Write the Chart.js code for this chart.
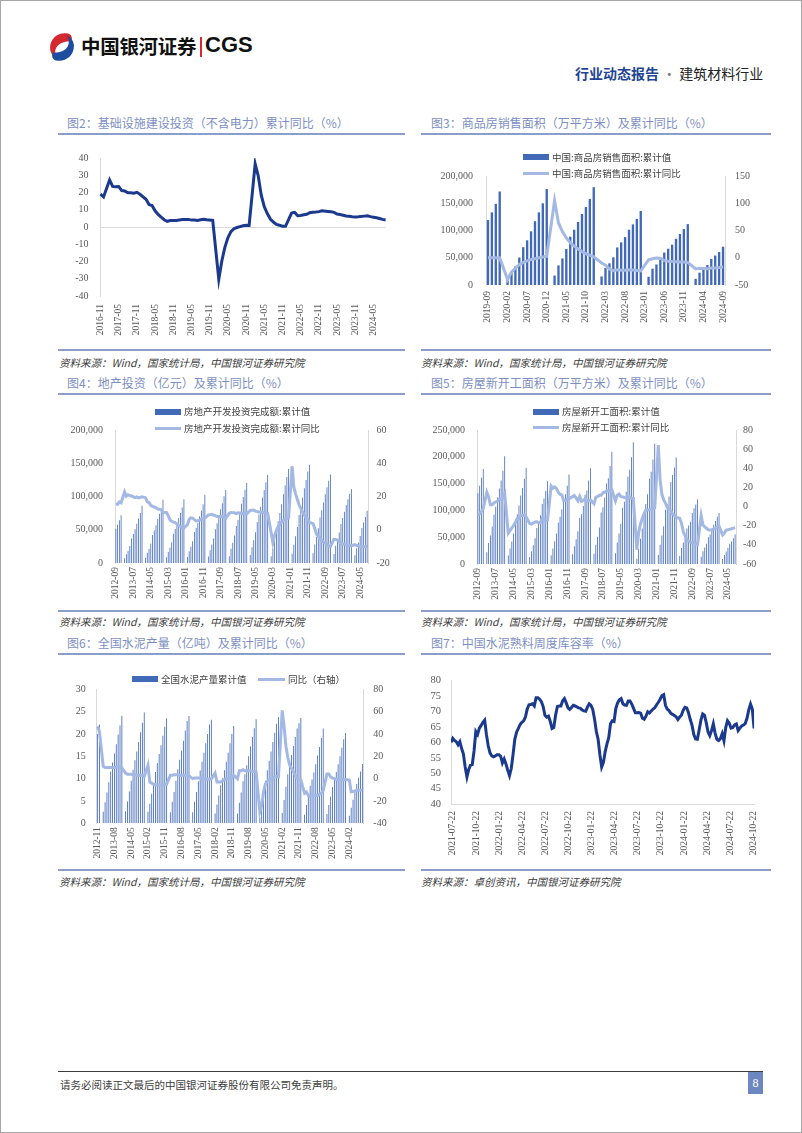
<!DOCTYPE html>
<html><head><meta charset="utf-8">
<script src="https://cdn.jsdelivr.net/npm/chart.js@4.4.1/dist/chart.umd.min.js"></script>
<style>
html,body{margin:0;padding:0;background:#fff;}
#page{position:relative;width:802px;height:1133px;overflow:hidden;font-family:"Noto Sans CJK SC","Noto Sans",sans-serif;}
#frame{position:absolute;left:0;top:0;width:802px;height:1133px;box-sizing:border-box;border:1px solid #a6a6a6;pointer-events:none;}
.title{position:absolute;font-size:12px;color:#7d8fc2;white-space:nowrap;line-height:14px;}
.hline{position:absolute;height:2px;background:#8d9dc9;}
.src{position:absolute;font-size:10.5px;color:#3c3c3c;font-style:italic;white-space:nowrap;line-height:12px;}
canvas{position:absolute;}
.lg{position:absolute;font-size:9.5px;color:#404040;white-space:nowrap;line-height:12px;}
.sw{position:absolute;}
</style>
</head><body>
<div id="page">
  <svg style="position:absolute;left:47px;top:32px" width="30" height="30" viewBox="0 0 30 30">
    <path d="M21 1.5 C11 -0.5 2 7 3.2 17.5 C3.8 21.5 6.5 25 10 26.5 C6.5 21 8 14.5 13.5 11.5 C16.5 9.8 20 9.2 24 9.5 C26 6 24.5 2.5 21 1.5 Z" fill="#d42a2f"/>
    <path d="M9 28.5 C19 30.5 28 23 26.8 12.5 C26.2 8.5 23.5 5 20 3.5 C23.5 9 22 15.5 16.5 18.5 C13.5 20.2 10 20.8 6 20.5 C4 24 5.5 27.5 9 28.5 Z" fill="#1e4c9e"/>
  </svg>
  <div style="position:absolute;left:81px;top:33px;font-size:19.5px;font-weight:700;color:#111;line-height:26px;letter-spacing:-0.3px">中国银河证券</div>
  <div style="position:absolute;left:200px;top:37px;width:2px;height:20px;background:#d42a2f"></div>
  <div style="position:absolute;left:205px;top:31px;font-family:'Liberation Sans',Arial,sans-serif;font-size:22px;font-weight:700;color:#111;line-height:28px">CGS</div>
  <div style="position:absolute;left:575px;top:63px;font-size:14px;line-height:20px;white-space:nowrap"><span style="color:#1f4592;font-weight:700">行业动态报告</span><span style="color:#777"> · </span><span style="color:#222">建筑材料行业</span></div>

  <div class="title" style="left:67px;top:116px">图2：基础设施建设投资（不含电力）累计同比（%）</div>
  <div class="title" style="left:431px;top:116px">图3：商品房销售面积（万平方米）及累计同比（%）</div>
  <div class="hline" style="left:58px;top:133px;width:347px"></div>
  <div class="hline" style="left:421px;top:133px;width:350px"></div>
  <div class="hline" style="left:58px;top:349px;width:347px"></div>
  <div class="hline" style="left:421px;top:349px;width:350px"></div>
  <div class="src" style="left:59px;top:357px">资料来源：Wind，国家统计局，中国银河证券研究院</div>
  <div class="src" style="left:421px;top:357px">资料来源：Wind，国家统计局，中国银河证券研究院</div>

  <div class="title" style="left:67px;top:376px">图4：地产投资（亿元）及累计同比（%）</div>
  <div class="title" style="left:431px;top:376px">图5：房屋新开工面积（万平方米）及累计同比（%）</div>
  <div class="hline" style="left:58px;top:393px;width:347px"></div>
  <div class="hline" style="left:421px;top:393px;width:350px"></div>
  <div class="hline" style="left:58px;top:610px;width:347px"></div>
  <div class="hline" style="left:421px;top:610px;width:350px"></div>
  <div class="src" style="left:59px;top:616px">资料来源：Wind，国家统计局，中国银河证券研究院</div>
  <div class="src" style="left:421px;top:616px">资料来源：Wind，国家统计局，中国银河证券研究院</div>

  <div class="title" style="left:67px;top:636px">图6：全国水泥产量（亿吨）及累计同比（%）</div>
  <div class="title" style="left:431px;top:636px">图7：中国水泥熟料周度库容率（%）</div>
  <div class="hline" style="left:58px;top:653px;width:347px"></div>
  <div class="hline" style="left:421px;top:653px;width:350px"></div>
  <div class="hline" style="left:58px;top:869px;width:347px"></div>
  <div class="hline" style="left:421px;top:869px;width:350px"></div>
  <div class="src" style="left:59px;top:876px">资料来源：Wind，国家统计局，中国银河证券研究院</div>
  <div class="src" style="left:421px;top:876px">资料来源：卓创资讯，中国银河证券研究院</div>

  <canvas id="c2" width="347" height="205" style="left:58px;top:140px"></canvas>
  <canvas id="c3" width="352" height="205" style="left:420px;top:140px"></canvas>
  <canvas id="c4" width="347" height="205" style="left:58px;top:400px"></canvas>
  <canvas id="c5" width="352" height="205" style="left:420px;top:400px"></canvas>
  <canvas id="c6" width="347" height="205" style="left:58px;top:660px"></canvas>
  <canvas id="c7" width="352" height="205" style="left:420px;top:660px"></canvas>

  <div style="position:absolute;left:58px;top:1071px;width:705px;height:1px;background:#3a3a3a"></div>
  <div style="position:absolute;left:60px;top:1078px;font-size:10.5px;color:#404040;line-height:14px;white-space:nowrap">请务必阅读正文最后的中国银河证券股份有限公司免责声明。</div>
  <div style="position:absolute;left:748px;top:1072px;width:15px;height:22px;background:#6c86c1;color:#fff;font-family:'Liberation Serif',serif;font-size:12px;line-height:22px;text-align:center">8</div>
  <div id="frame"></div>
</div>
<script>
// ---------------- DATA ----------------
function monthRange(start, end) {
  const out = []; let [y, m] = start.split('-').map(Number); const [ey, em] = end.split('-').map(Number);
  while (y < ey || (y === ey && m <= em)) { out.push(y + '-' + String(m).padStart(2, '0')); m++; if (m > 12) { m = 1; y++; } }
  return out;
}

// Fig 2: infrastructure investment (excl. power), cumulative YoY %
const c2Cats = monthRange('2016-11', '2024-09');
const c2TickLabels = ['2016-11','2017-05','2017-11','2018-05','2018-11','2019-05','2019-11','2020-05','2020-11','2021-05','2021-11','2022-05','2022-11','2023-05','2023-11','2024-05'];
const c2Yoy = [19.0, 17.4,
  null, 27.3, 23.5, 23.3, 23.4, 21.1, 20.9, 19.8, 19.8, 19.6, 20.1, 19.0,
  null, 16.1, 13.0, 12.4, 9.4, 7.3, 5.7, 4.2, 3.3, 3.7, 3.7, 3.8,
  null, 4.3, 4.4, 4.4, 4.0, 4.1, 3.8, 4.2, 4.5, 4.2, 4.0, 3.8,
  null, -30.3, -19.7, -11.8, -6.3, -2.7, -1.0, -0.3, 0.2, 0.7, 1.0, 0.9,
  null, 36.6, 29.7, 18.4, 11.8, 7.8, 4.6, 2.9, 1.5, 1.0, 0.5, 0.4,
  null, 8.1, 8.5, 6.5, 6.7, 7.1, 7.4, 8.3, 8.6, 8.7, 8.9, 9.4,
  null, 9.0, 8.8, 8.5, 7.5, 7.2, 6.8, 6.4, 6.2, 5.9, 5.8, 5.9,
  null, 6.3, 6.5, 6.0, 5.7, 5.4, 4.9, 4.4, 4.1];

// Fig 3: commodity housing sales area
const c3Cats = monthRange('2019-09', '2024-09');
const c3TickLabels = ['2019-09','2020-02','2020-07','2020-12','2021-05','2021-10','2022-03','2022-08','2023-01','2023-06','2023-11','2024-04','2024-09'];
const c3Area = [119179, 133251, 148905, 171558,
  null, 8475, 21978, 33839, 50464, 69404, 81973, 98486, 117073, 133294, 149845, 176086,
  null, 17363, 36007, 48710, 66194, 88635, 101386, 115568, 130332, 143041, 158015, 179433,
  null, 15703, 31046, 39768, 50738, 68923, 78178, 87890, 101422, 111179, 121250, 135837,
  null, 15133, 29946, 37636, 46440, 59515, 66563, 73949, 84806, 93476, 102694, 111735,
  null, 11369, 22668, 29252, 36642, 47916, 54072, 60508, 70284];
const c3Yoy = [-0.1, 0.1, 0.2, -0.1,
  null, -39.9, -26.3, -19.3, -12.3, -8.4, -5.8, -3.3, -1.8, 0.0, 1.3, 2.6,
  null, 104.9, 63.8, 48.1, 36.3, 27.7, 21.5, 15.9, 11.3, 7.3, 4.8, 1.9,
  null, -9.6, -13.8, -20.9, -23.6, -22.2, -23.1, -23.0, -22.2, -22.3, -23.3, -24.3,
  null, -3.6, -1.8, -0.4, -0.9, -5.3, -6.5, -7.1, -7.5, -7.8, -8.0, -8.5,
  null, -20.5, -19.4, -19.8, -20.3, -19.0, -18.6, -18.0, -17.1];

// Fig 4: real estate development investment
const c4Cats = monthRange('2012-09', '2024-09');
const c45TickLabels = ['2012-09','2013-07','2014-05','2015-03','2016-01','2016-11','2017-09','2018-07','2019-05','2020-03','2021-01','2021-11','2022-09','2023-07','2024-05'];
const c4Inv = [51046, 57464, 64192, 71804,
  null, 6970, 13133, 18532, 25564, 36828, 43719, 50840, 59148, 66752, 75021, 86013,
  null, 7986, 15339, 21193, 29205, 42019, 49007, 56662, 66166, 73990, 82194, 95036,
  null, 8786, 16491, 22873, 31187, 43955, 50950, 57843, 67706, 75206, 83489, 95979,
  null, 9194, 17677, 24290, 32632, 46631, 53127, 60302, 70432, 78872, 87819, 102581,
  null, 9854, 19292, 27732, 36797, 50610, 59761, 68457, 80644, 89696, 100387, 109799,
  null, 10292, 21291, 30592, 41471, 55531, 64839, 76519, 88948, 99325, 110083, 120264,
  null, 12090, 23803, 34217, 46075, 61609, 72843, 84589, 98008, 109603, 121265, 132194,
  null, 10115, 21963, 33103, 45920, 62780, 75325, 88454, 103484, 116556, 129492, 141443,
  null, 13986, 27576, 40240, 54318, 72179, 84895, 98011, 112568, 124934, 137567, 147602,
  null, 14499, 27765, 39154, 52134, 68314, 79462, 90809, 103559, 113945, 123863, 132895,
  null, 13669, 25974, 35514, 45701, 58550, 67717, 76900, 87269, 95922, 104045, 110913,
  null, 11842, 22082, 30928, 40632, 52529, 60877, 69284, 78680];
const c4Yoy = [15.4, 15.4, 16.7, 16.2,
  null, 22.8, 20.2, 21.1, 20.6, 20.3, 19.8, 19.3, 19.7, 19.2, 19.5, 19.8,
  null, 19.3, 16.8, 16.4, 14.7, 14.1, 13.7, 13.2, 12.5, 12.4, 11.9, 10.5,
  null, 10.4, 8.5, 6.0, 5.1, 4.6, 4.3, 3.5, 2.6, 2.0, 1.3, 1.0,
  null, 3.0, 6.2, 7.2, 7.0, 6.1, 5.3, 5.4, 5.8, 6.6, 6.5, 6.9,
  null, 8.9, 9.1, 9.3, 8.8, 8.5, 7.9, 7.9, 8.1, 7.8, 7.5, 7.0,
  null, 9.9, 10.4, 10.3, 10.2, 9.7, 10.2, 10.1, 9.9, 9.7, 9.7, 9.5,
  null, 11.6, 11.8, 11.9, 11.2, 10.9, 10.6, 10.5, 10.5, 10.3, 10.2, 9.9,
  null, null, -7.7, -3.3, -0.3, 1.9, 3.4, 4.6, 5.6, 6.3, 6.8, 7.0,
  null, 38.3, 25.6, 21.6, 18.3, 15.0, 12.7, 10.9, 8.8, 7.2, 6.0, 4.4,
  null, 3.7, 0.7, -2.7, -4.0, -5.4, -6.4, -7.4, -8.0, -8.8, -9.8, -10.0,
  null, -5.7, -5.8, -6.2, -7.2, -7.9, -8.5, -8.8, -9.1, -9.3, -9.4, -9.6,
  null, -9.0, -9.5, -9.8, -10.1, -10.1, -10.2, -10.2, -10.1];

// Fig 5: new housing starts area
const c5Cats = monthRange('2012-09', '2024-09');
const c5Area = [132000, 146000, 161000, 177334,
  null, 22000, 39000, 53000, 70000, 92000, 107000, 124000, 141000, 156000, 174000, 201208,
  null, 16000, 29000, 42000, 57000, 80000, 93000, 109000, 128000, 142000, 159000, 179592,
  null, 13000, 24000, 35000, 48000, 67000, 78000, 91000, 112000, 122000, 136000, 154454,
  null, 16500, 29000, 42500, 57000, 77000, 88000, 102000, 119000, 130000, 146000, 166928,
  null, 18000, 33000, 46000, 61000, 86000, 93000, 108000, 129000, 137000, 156000, 178654,
  null, 19000, 36000, 51000, 68000, 96000, 106000, 124000, 150000, 160000, 183000, 209342,
  null, 20000, 40000, 57000, 75000, 105000, 116000, 135000, 163000, 176000, 199000, 227154,
  null, 10000, 28000, 47000, 66000, 97000, 112000, 130000, 159000, 172000, 195000, 224433,
  null, 17000, 36000, 53000, 70000, 101000, 112000, 126000, 153000, 166000, 180000, 198895,
  null, 15000, 30000, 40000, 49000, 66000, 72000, 79000, 95000, 104000, 111000, 120587,
  null, 13600, 24000, 31000, 38000, 50000, 55000, 63000, 73000, 80000, 88000, 95376,
  null, 9400, 17000, 23500, 30000, 38000, 42000, 48000, 55151];
const c5Yoy = [-9, -7.5, -5, -2,
  null, 15, 10, 2, 2, 3.8, 5, 5.6, 7.9, 7.6, 9.8, 13.5,
  null, -27.8, -25.2, -22.3, -19.8, -16.4, -12.7, -12.4, -9.3, -9.3, -9.0, -10.7,
  null, -17.7, -18.4, -17.1, -16.0, -15.8, -16.8, -16.8, -12.6, -13.9, -14.6, -14.0,
  null, 21.5, 19.2, 20.5, 18.9, 14.9, 12.6, 12.2, 6.2, 6.4, 7.6, 8.1,
  null, 10.4, 11.6, 8.8, 6.0, 10.6, 5.5, 6.1, 8.2, 5.4, 6.4, 7.0,
  null, 2.9, 9.7, 10.3, 11.8, 11.8, 14.4, 14.9, 16.4, 16.3, 16.8, 17.2,
  null, 6.0, 11.9, 13.1, 10.5, 10.1, 9.5, 8.9, 8.6, 10.0, 8.6, 8.5,
  null, -44.9, -27.2, -18.4, -12.8, -7.6, -3.6, -3.6, -3.4, -2.6, -2.0, -1.2,
  null, 64.3, 28.2, 12.8, 6.9, 3.8, -0.9, -3.2, -4.5, -7.7, -9.1, -11.4,
  null, -12.2, -17.5, -26.3, -30.6, -34.4, -36.1, -37.2, -38.0, -37.8, -38.9, -39.4,
  null, -9.4, -19.2, -21.2, -22.6, -24.3, -24.5, -24.4, -23.4, -23.2, -21.2, -20.4,
  null, -29.7, -27.8, -24.6, -24.2, -23.7, -23.2, -22.5, -22.2];

// Fig 6: cement output
const c6Cats = monthRange('2012-11', '2024-09');
const c6TickLabels = ['2012-11','2013-08','2014-05','2015-02','2015-11','2016-08','2017-05','2018-02','2018-11','2019-08','2020-05','2021-02','2021-11','2022-08','2023-05','2024-02'];
const c6Output = [20.0, 22.1,
  null, 2.6, 4.7, 6.9, 9.2, 11.6, 13.6, 15.6, 17.7, 19.9, 21.9, 24.1,
  null, 2.7, 4.9, 7.1, 9.5, 12.0, 14.1, 16.1, 18.2, 20.4, 22.5, 24.8,
  null, 2.6, 4.4, 6.6, 9.0, 11.5, 13.5, 15.5, 17.5, 19.6, 21.6, 23.5,
  null, 2.5, 4.8, 7.0, 9.5, 12.1, 14.2, 16.3, 18.5, 20.8, 22.9, 24.0,
  null, 2.5, 4.8, 7.0, 9.4, 11.8, 13.8, 15.8, 17.9, 20.0, 22.1, 23.2,
  null, 2.2, 4.2, 6.2, 8.5, 10.1, 11.9, 13.8, 15.8, 17.9, 20.0, 21.8,
  null, 2.2, 4.6, 6.9, 9.4, 11.0, 13.0, 15.0, 17.2, 19.3, 21.3, 23.3,
  null, 1.3, 3.8, 6.7, 9.5, 11.9, 14.0, 16.1, 18.2, 20.3, 22.3, 23.8,
  null, 2.3, 5.2, 8.2, 11.0, 13.3, 15.3, 17.3, 19.3, 21.2, 22.4, 23.6,
  null, 1.9, 4.1, 6.3, 8.4, 9.8, 11.4, 13.2, 15.2, 17.1, 19.1, 21.2,
  null, 2.1, 4.1, 6.0, 8.1, 9.9, 11.5, 13.2, 15.0, 16.9, 18.8, 20.2,
  null, 1.7, 3.5, 5.3, 7.3, 8.8, 10.2, 11.6, 13.3];
const c6Yoy = [47, 42,
  null, 11, 10, 10, 10, 10, 10, 10, 10.5, 10.5, 10.5, 9.6,
  null, 5, 4, 4, 4, 3.5, 3.5, 3, 3, 3, 3, 2,
  null, 12, -3, -4, -5, -5.5, -6, -6, -6, -6, -5.5, -5,
  null, 3, 3, 3.5, 3.5, 3.5, 3, 3, 3, 3, 3, 2.5,
  null, 0, 0.5, 0.5, 0.5, 0.5, 0, 0, -0.5, -0.5, -0.5, -0.2,
  null, 5, -3, -3, -3, -2, -1, 0, 0, 0.5, 0.5, 3,
  null, 0, 7, 7, 8, 7, 7, 7, 7, 6.5, 6.5, 6.1,
  null, -29.5, -23.9, -11.7, -4.8, -2.5, -1.1, -0.2, 0.2, 1.6, 1.9, 1.6,
  null, 61.1, 47.3, 29.1, 18.9, 12.3, 9.2, 6.4, 2.5, 0.5, -1, -1.2,
  null, -13.2, -12, -15, -16, -15, -15, -15, -15, -14, -13, -10.8,
  null, 4.1, 4.1, 1.5, 0.5, 0, -0.5, -1, -1, -1, -1, -0.7,
  null, -1.3, -11.8, -11.5, -11, -10.5, -10.5, -10.5, -10.3];

// Fig 7: weekly clinker inventory ratio %
const c7Start = '2021-07-15';
const c7TickLabels = ['2021-07-22','2021-10-22','2022-01-22','2022-04-22','2022-07-22','2022-10-22','2023-01-22','2023-04-22','2023-07-22','2023-10-22','2024-01-22','2024-04-22','2024-07-22','2024-10-22'];
const c7Ratio = [60,61.3,60.6,60.2,59.2,60.2,58,56.2,52,48.8,
  51.2,52.6,52.8,57.2,63.5,62.6,64.6,65.5,66.5,67.2,
  62.5,58.9,56.6,55.6,55.3,55.6,56,56,55.5,53.3,
  54.6,53,51,49.2,51.5,56,61,63.3,64.5,65.8,
  66.5,67,68.2,70.8,72.2,72.3,72.5,71.8,74.5,74.5,
  74,73.2,71.6,68.8,68.2,68.5,66.8,64.5,64.8,68.8,
  71.6,71.8,71.8,73.5,74.2,72.8,71.2,70.7,71.3,72,
  71.8,71.5,71.2,71,70.5,70.2,70.1,71.5,72.5,72,
  70.6,67.5,63.5,61,56,52,53.5,57,59.5,61.5,
  66,67,66.8,71,72.8,73.8,74.2,72.5,72.1,72,
  73.4,73.4,72.4,71,69.6,69.6,69.7,69.5,67.8,67.5,
  68.5,69.9,69.5,70.2,70.8,71.2,72.2,73,74,75.2,
  75.5,72,70.8,70.3,69.4,69.1,68.7,68.3,67.4,68.2,
  68.8,70.4,71.4,71.2,69.6,67.4,65.5,62.5,61.1,61,
  64,67.2,69.2,68.8,66.4,63.4,62.2,63.8,66,63,
  61,60.6,61.2,62.8,60.5,64.8,67,66.2,64.6,64.8,
  65.7,66,63.8,64.6,65.3,65.6,66.1,67.8,70.5,72.4,
  70.8,64.5];

// ---------------- STYLE ----------------
const SERIF = '"Liberation Serif","Times New Roman",serif';
const TICK_COLOR = '#595959';
const AXIS_GRAY = '#d9d9d9';
const BAR_COLOR = '#4169b8';
const LIGHT_LINE = '#a3b8e3';
const DARK_LINE = '#1b3a8e';
Chart.defaults.animation = false;
Chart.defaults.responsive = false;
Chart.defaults.devicePixelRatio = 1;
Chart.defaults.plugins.legend.display = false;
Chart.defaults.plugins.tooltip.enabled = false;
Chart.defaults.events = [];

const fitW = w => s => { s.width = w; };
const fitH = h => s => { s.height = h; };
const fmt = v => Number(v).toLocaleString('en-US');

function catX(ticks, h, pad, extra) {
  return Object.assign({
    type: 'category',
    grid: { display: false, drawTicks: false },
    border: { display: false },
    ticks: { autoSkip: false, maxRotation: 90, minRotation: 90, padding: pad, color: TICK_COLOR,
      font: { family: SERIF, size: 9.5 },
      callback(v) { const l = this.getLabelForValue(v); return ticks.includes(l) ? l : ''; } },
    afterFit: fitH(h)
  }, extra || {});
}
function valY(pos, min, max, step, w, pad, opts) {
  opts = opts || {};
  return {
    type: 'linear', position: pos, min, max,
    grid: { display: !!opts.grid, drawOnChartArea: pos === 'left', drawTicks: false,
      color: opts.grid || 'rgba(0,0,0,0)', lineWidth: 1 },
    border: { display: true, color: AXIS_GRAY },
    ticks: { autoSkip: false, stepSize: step, padding: pad, color: TICK_COLOR, font: { family: SERIF, size: opts.size || 10 },
      callback: opts.fmt || (v => fmt(v)) },
    afterFit: fitW(w)
  };
}

function htmlLegend(chart, spec) {
  const page = document.getElementById('page');
  spec.forEach(s => {
    const ds = chart.data.datasets[s.ds];
    const isBar = ds.type === 'bar';
    const h = isBar ? 6 : 3;
    const w = s.w || 26;
    const sw = document.createElement('div');
    sw.className = 'sw';
    sw.style.cssText = `left:${s.x}px;top:${s.y - h / 2}px;width:${w}px;height:${h}px;background:${isBar ? ds.backgroundColor : ds.borderColor}`;
    page.appendChild(sw);
    const t = document.createElement('div');
    t.className = 'lg';
    t.textContent = ds.label;
    t.style.left = (s.x + w + 3) + 'px';
    t.style.top = (s.y - 6.5) + 'px';
    page.appendChild(t);
  });
}

// ---------------- Fig 2 ----------------
new Chart(document.getElementById('c2'), {
  type: 'line',
  data: { labels: c2Cats, datasets: [{ label: '基础设施建设投资（不含电力）累计同比', data: c2Yoy, borderColor: DARK_LINE,
    borderWidth: 3, pointRadius: 0, spanGaps: true, tension: 0 }] },
  options: {
    layout: { padding: { left: 0, right: 15.7, top: 14, bottom: 0 } },
    scales: {
      x: catX(c2TickLabels, 49, 8),
      y: valY('left', -40, 40, 10, 42.5, 12, { grid: c => (c.tick && c.tick.value === 0) ? AXIS_GRAY : 'rgba(0,0,0,0)' })
    }
  }
});

// ---------------- combo builder ----------------
function combo(id, cats, bars, line, barLabel, lineLabel, cfg) {
  return new Chart(document.getElementById(id), {
    data: { labels: cats, datasets: [
      { type: 'bar', label: barLabel, data: bars, backgroundColor: BAR_COLOR, yAxisID: 'y', order: 2,
        barPercentage: cfg.barPct, categoryPercentage: 1 },
      { type: 'line', label: lineLabel, data: line, borderColor: LIGHT_LINE, backgroundColor: LIGHT_LINE, borderWidth: 3,
        pointRadius: 0, spanGaps: true, yAxisID: 'y1', order: 1, tension: 0 }
    ] },
    options: {
      layout: { padding: { left: 0, right: 0, top: cfg.top, bottom: 0 } },
      scales: {
        x: catX(cfg.ticks, cfg.xh, cfg.xpad),
        y: valY('left', cfg.yl[0], cfg.yl[1], cfg.yl[2], cfg.wl, cfg.pl),
        y1: valY('right', cfg.yr[0], cfg.yr[1], cfg.yr[2], cfg.wr, cfg.pr)
      }
    }
  });
}

const ch3 = combo('c3', c3Cats, c3Area, c3Yoy, '中国:商品房销售面积:累计值', '中国:商品房销售面积:累计同比',
  { barPct: 0.6, top: 36, ticks: c3TickLabels, xh: 60, xpad: 6, yl: [0, 200000, 50000], yr: [-50, 150, 50], wl: 66, pl: 13, wr: 47, pr: 10 });
htmlLegend(ch3, [{ ds: 0, x: 523, y: 157 }, { ds: 1, x: 523, y: 173 }]);

const ch4 = combo('c4', c4Cats, c4Inv, c4Yoy, '房地产开发投资完成额:累计值', '房地产开发投资完成额:累计同比',
  { barPct: 0.45, top: 30, ticks: c45TickLabels, xh: 42, xpad: 4, yl: [0, 200000, 50000], yr: [-20, 60, 20], wl: 57, pl: 12, wr: 37, pr: 8.5 });
htmlLegend(ch4, [{ ds: 0, x: 155, y: 411.5 }, { ds: 1, x: 155, y: 428 }]);

const ch5 = combo('c5', c5Cats, c5Area, c5Yoy, '房屋新开工面积:累计值', '房屋新开工面积:累计同比',
  { barPct: 0.45, top: 30, ticks: c45TickLabels, xh: 41, xpad: 4, yl: [0, 250000, 50000], yr: [-60, 80, 20], wl: 57, pl: 12, wr: 36, pr: 7 });
htmlLegend(ch5, [{ ds: 0, x: 533, y: 411.5 }, { ds: 1, x: 533, y: 427.5 }]);

const ch6 = combo('c6', c6Cats, c6Output, c6Yoy, '全国水泥产量累计值', '同比（右轴）',
  { barPct: 0.45, top: 29.3, ticks: c6TickLabels, xh: 41.7, xpad: 4, yl: [0, 30, 5], yr: [-40, 80, 20], wl: 38.7, pl: 11, wr: 41.7, pr: 10 });
htmlLegend(ch6, [{ ds: 0, x: 132, y: 679 }, { ds: 1, x: 258, y: 679, w: 27 }]);

// ---------------- Fig 7 ----------------
const dayMs = 86400000;
const dayOf = s => Math.round((Date.UTC(+s.slice(0, 4), +s.slice(5, 7) - 1, +s.slice(8, 10)) - Date.UTC(+c7Start.slice(0, 4), +c7Start.slice(5, 7) - 1, +c7Start.slice(8, 10))) / dayMs);
const c7Points = c7Ratio.map((v, i) => ({ x: i * 7, y: v }));
const c7TickDays = c7TickLabels.map(dayOf);
new Chart(document.getElementById('c7'), {
  type: 'line',
  data: { datasets: [{ label: '中国水泥熟料周度库容率', data: c7Points, borderColor: DARK_LINE, borderWidth: 3, pointRadius: 0, tension: 0 }] },
  options: {
    layout: { padding: { left: 0, right: 14.7, top: 20.7, bottom: 0 } },
    scales: {
      x: { type: 'linear', min: 0, max: (c7Ratio.length - 1) * 7,
        grid: { display: false, drawTicks: false }, border: { display: true, color: AXIS_GRAY },
        afterBuildTicks: s => { s.ticks = c7TickDays.map(v => ({ value: v })); },
        ticks: { autoSkip: false, maxRotation: 90, minRotation: 90, padding: 7, color: TICK_COLOR, font: { family: SERIF, size: 9.5 },
          callback: v => { const k = c7TickDays.indexOf(v); return k >= 0 ? c7TickLabels[k] : ''; } },
        afterFit: fitH(61) },
      y: valY('left', 40, 80, 5, 31, 10, { size: 10.5 })
    }
  }
});
</script>
</body></html>
